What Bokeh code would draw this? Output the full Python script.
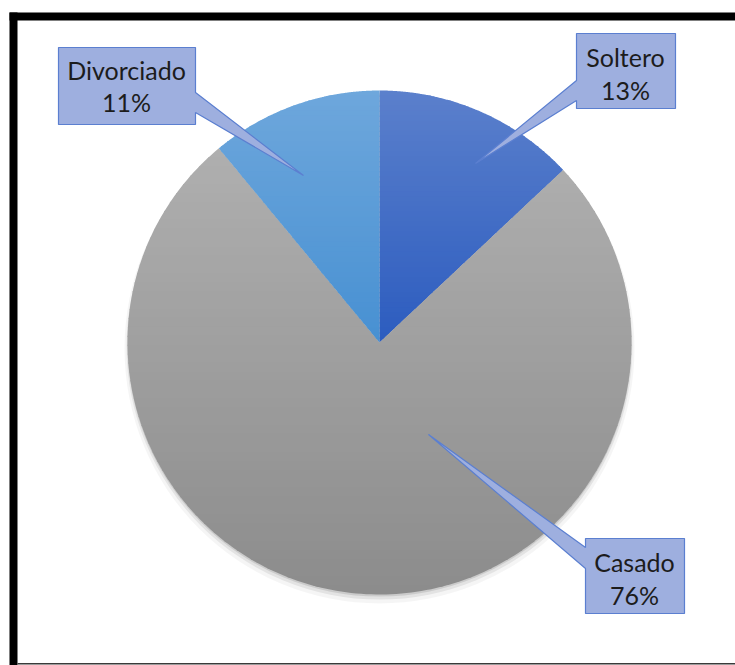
import numpy as np
from bokeh.plotting import figure
from bokeh.models import Range1d
from bokeh.core.properties import value
from bokeh.embed import file_html
from bokeh.resources import INLINE

# ---- data ----
categories = ["Soltero", "Casado", "Divorciado"]
shares = [13, 76, 11]
pct_labels = [f"{v}%" for v in shares]

# ---- style ----
grad_colors = {
    "Soltero": ("#5b80cc", "#2c5cbf"),
    "Casado": ("#afafaf", "#8c8c8c"),
    "Divorciado": ("#6ea7dc", "#4790d2"),
}
W, H = 735, 665
cx, cy, R = 379, 342, 252

p = figure(width=W, height=H, x_range=Range1d(0, W), y_range=Range1d(H, 0),
           x_axis_type=None, y_axis_type=None, toolbar_location=None,
           output_backend="svg", min_border=0, outline_line_color=None,
           background_fill_color="white", border_fill_color="white")
p.grid.visible = False


def hexrgb(h):
    h = h.lstrip("#")
    return tuple(int(h[i:i + 2], 16) for i in (0, 2, 4))


def mix(c0, c1, t):
    a, b = hexrgb(c0), hexrgb(c1)
    return "#%02x%02x%02x" % tuple(int(round(a[i] + (b[i] - a[i]) * t)) for i in range(3))


def clip(poly, yv, keep_above):
    out = []
    n = len(poly)
    for i in range(n):
        cur, prv = poly[i], poly[i - 1]
        cin = cur[1] >= yv if keep_above else cur[1] <= yv
        pin = prv[1] >= yv if keep_above else prv[1] <= yv
        if cin:
            if not pin:
                t = (yv - prv[1]) / (cur[1] - prv[1])
                out.append((prv[0] + t * (cur[0] - prv[0]), yv))
            out.append(cur)
        elif pin:
            t = (yv - prv[1]) / (cur[1] - prv[1])
            out.append((prv[0] + t * (cur[0] - prv[0]), yv))
    return out


# soft shadow (mostly below the pie)
p.ellipse(x=[cx], y=[cy + 6], width=[2 * R + 6], height=[2 * R + 6], fill_color="#000000", fill_alpha=0.04, line_color=None)
p.ellipse(x=[cx], y=[cy + 4], width=[2 * R + 2], height=[2 * R + 2], fill_color="#000000", fill_alpha=0.07, line_color=None)
p.ellipse(x=[cx], y=[cy + 2], width=[2 * R], height=[2 * R], fill_color="#000000", fill_alpha=0.10, line_color=None)

total = sum(shares)
cum = np.cumsum([0] + shares) / total * 2 * np.pi
xs_all, ys_all, cols = [], [], []
for i, cat in enumerate(categories):
    a0, a1 = cum[i], cum[i + 1]
    th = np.linspace(a0, a1, 240)
    poly = [(cx, cy)] + [(cx + R * np.sin(t), cy - R * np.cos(t)) for t in th]
    ymin = min(q[1] for q in poly)
    ymax = max(q[1] for q in poly)
    nb = 50
    edges = np.linspace(ymin, ymax, nb + 1)
    c0, c1 = grad_colors[cat]
    for b in range(nb):
        lo = edges[b + 1] + (1.2 if b < nb - 1 else 0)
        part = clip(clip(poly, edges[b], True), lo, False)
        if len(part) < 3:
            continue
        xs_all.append([q[0] for q in part])
        ys_all.append([q[1] for q in part])
        cols.append(mix(c0, c1, (b + 0.5) / nb))
p.patches(xs=xs_all, ys=ys_all, fill_color=cols, line_color=None)

# callouts (box + pointer)
callouts = {
    "Divorciado": [(58, 47), (195, 47), (195, 92), (303, 175), (195, 112), (195, 124), (58, 124)],
    "Soltero": [(576, 33), (675, 33), (675, 108), (576, 108), (576, 100), (475, 163), (576, 80)],
    "Casado": [(585, 538), (684, 538), (684, 613), (585, 613), (585, 568), (428, 434), (585, 547)],
}
text_pos = {"Divorciado": (126, 69, 101), "Soltero": (625, 56, 89), "Casado": (634, 561, 594)}
for cat in categories:
    pts = callouts[cat]
    p.patch([q[0] for q in pts], [q[1] for q in pts], fill_color="#9eafdf",
            line_color="#5b7fd0", line_width=1.2)
tx, ty, tt = [], [], []
for i, cat in enumerate(categories):
    x, y1, y2 = text_pos[cat]
    tx += [x, x]
    ty += [y1, y2]
    tt += [cat, pct_labels[i]]
p.text(x=tx, y=ty, text=tt, text_font=value("Lato"), text_font_size="25px",
       text_align="center", text_baseline="middle", text_color="#1c1c1c")

# frame
p.quad(left=[9, 9], right=[17, W], top=[12, 12], bottom=[H, 20], fill_color="black", line_color=None)
p.quad(left=[17], right=[W], top=[662.5], bottom=[664], fill_color="#3a3a3a", line_color=None)

open("out.html", "w").write(file_html(p, INLINE))
